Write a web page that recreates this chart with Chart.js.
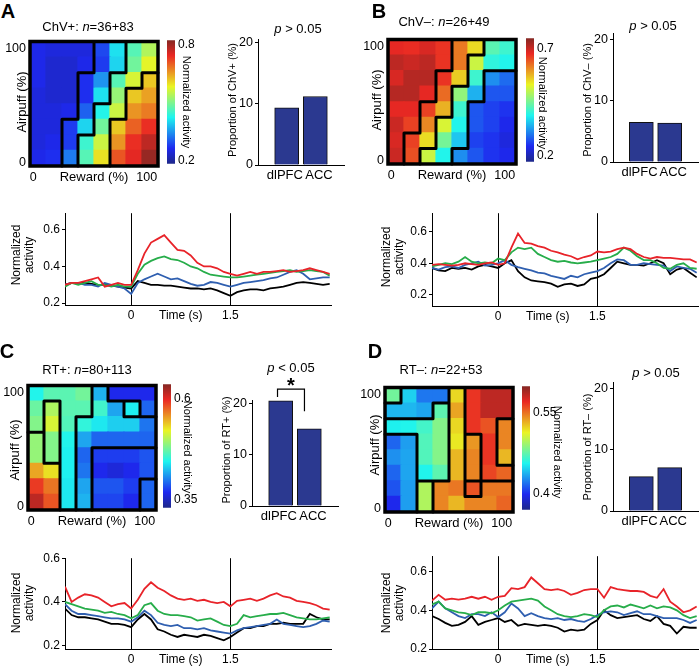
<!DOCTYPE html>
<html>
<head>
<meta charset="utf-8">
<title>ChV / RT clusters</title>
<script src="https://cdn.jsdelivr.net/npm/chart.js@4.4.1/dist/chart.umd.min.js"></script>
<style>
  html, body { margin: 0; padding: 0; background: #fff; }
  #fig { position: relative; width: 700px; height: 669px; overflow: hidden;
         font-family: 'Liberation Sans', Arial, Helvetica, sans-serif; color: #000; }
  #fig canvas { position: absolute; }
  .lbl { position: absolute; white-space: nowrap; line-height: 1.05; text-align: center; }
  .letter { font-weight: bold; }
</style>
</head>
<body>
<div id="fig"></div>
<script>
/* ============================================================
   DATA
   heat* arrays: rows from airpuff 100 (top) down to airpuff 0,
   columns from reward 0 (left) to reward 100 (right).
   groups*: cluster id of each cell, black lines go between ids.
   ============================================================ */
const timeSec = [-1.0,-0.9,-0.8,-0.7,-0.6,-0.5,-0.4,-0.3,-0.2,-0.1,
                 0.0,0.1,0.2,0.3,0.4,0.5,0.6,0.7,0.8,0.9,
                 1.0,1.1,1.2,1.3,1.4,1.5,1.6,1.7,1.8,1.9,
                 2.0,2.1,2.2,2.3,2.4,2.5,2.6,2.7,2.8,2.9,3.0];
const timeTicks      = [0, 0.75, 1.5];
const timeTickLabels = ['0', 'Time (s)', '1.5'];
const activityTicks  = [0.2, 0.4, 0.6];
const rewardIdx      = [0, 1, 2, 3, 4, 5, 6, 7];
const heatXTicks     = [-0.3, 3.5, 6.8];
const heatXLabels    = ['0', 'Reward (%)', '100'];
const heatYTicks     = [0.25, 7.55];
const heatYLabels    = ['0', '100'];
const areaLabels     = ['', 'dlPFC ', '  ACC', ''];
const propTicks      = [0, 10, 20];
const traceColors    = ['#e82329', '#27ad4a', '#2f5fb0', '#000000'];

/* ---- A: ChV+ ---- */
const heatA = [
  [0.26,0.25,0.25,0.25,0.29,0.41,0.47,0.54],
  [0.26,0.24,0.24,0.26,0.28,0.40,0.49,0.58],
  [0.26,0.24,0.24,0.27,0.35,0.47,0.57,0.62],
  [0.25,0.24,0.24,0.27,0.41,0.52,0.62,0.65],
  [0.25,0.25,0.26,0.31,0.43,0.56,0.66,0.68],
  [0.25,0.25,0.28,0.40,0.49,0.62,0.70,0.74],
  [0.25,0.26,0.28,0.45,0.56,0.66,0.74,0.78],
  [0.26,0.27,0.33,0.47,0.60,0.71,0.75,0.81]
];
const groupsA = [
  [1,1,1,1,2,2,3,3],
  [1,1,1,1,2,2,3,3],
  [1,1,1,2,2,3,3,4],
  [1,1,1,2,2,3,4,4],
  [1,1,1,2,3,3,4,4],
  [1,1,2,2,3,4,4,4],
  [1,1,2,3,3,4,4,4],
  [1,1,2,3,3,4,4,4]
];
const cbarA = [0.185, 0.825], cbarTicksA = [0.2, 0.8];
const propA = [9.35, 11.2];
const redA   = [0.30,0.31,0.31,0.32,0.33,0.34,0.29,0.30,0.31,0.30, 0.30,0.38,0.47,0.53,0.55,0.57,0.53,0.49,0.485,0.46, 0.42,0.40,0.40,0.39,0.37,0.36,0.35,0.36,0.37,0.36, 0.37,0.37,0.375,0.38,0.37,0.375,0.38,0.39,0.38,0.37, 0.36];
const greenA = [0.29,0.31,0.30,0.31,0.32,0.30,0.30,0.29,0.30,0.29, 0.29,0.36,0.41,0.43,0.445,0.455,0.44,0.435,0.42,0.40, 0.39,0.37,0.355,0.35,0.345,0.34,0.34,0.345,0.35,0.355, 0.36,0.365,0.37,0.375,0.38,0.37,0.375,0.38,0.375,0.37, 0.35];
const blueA  = [0.30,0.31,0.31,0.30,0.30,0.29,0.31,0.30,0.29,0.28, 0.25,0.31,0.33,0.345,0.36,0.345,0.33,0.335,0.32,0.305, 0.295,0.30,0.315,0.31,0.30,0.29,0.30,0.31,0.315,0.32, 0.325,0.335,0.34,0.355,0.37,0.38,0.36,0.33,0.335,0.34, 0.34];
const blackA = [0.30,0.31,0.31,0.31,0.305,0.30,0.30,0.295,0.29,0.285, 0.28,0.32,0.31,0.30,0.30,0.295,0.295,0.29,0.285,0.28, 0.28,0.275,0.28,0.27,0.255,0.24,0.26,0.27,0.275,0.275, 0.27,0.28,0.285,0.29,0.30,0.31,0.315,0.31,0.305,0.30, 0.305];

/* ---- B: ChV- ---- */
const heatB = [
  [0.68,0.675,0.69,0.67,0.62,0.55,0.43,0.41],
  [0.71,0.70,0.71,0.67,0.62,0.51,0.40,0.39],
  [0.69,0.715,0.715,0.67,0.56,0.41,0.315,0.29],
  [0.715,0.715,0.68,0.63,0.47,0.34,0.275,0.275],
  [0.68,0.68,0.66,0.58,0.41,0.275,0.26,0.25],
  [0.70,0.66,0.61,0.52,0.39,0.275,0.26,0.24],
  [0.69,0.66,0.55,0.45,0.355,0.26,0.25,0.23],
  [0.70,0.65,0.51,0.39,0.315,0.275,0.25,0.24]
];
const groupsB = [
  [1,1,1,1,2,2,3,3],
  [1,1,1,1,2,3,3,3],
  [1,1,1,2,2,3,4,4],
  [1,1,1,2,3,3,4,4],
  [1,1,2,2,3,4,4,4],
  [1,1,2,3,3,4,4,4],
  [1,2,2,3,3,4,4,4],
  [1,2,3,3,4,4,4,4]
];
const cbarB = [0.17, 0.75], cbarTicksB = [0.2, 0.7];
const propB = [6.45, 6.35];
const redB   = [0.39,0.395,0.39,0.385,0.39,0.40,0.395,0.39,0.40,0.405, 0.39,0.40,0.50,0.59,0.53,0.525,0.51,0.50,0.48,0.47, 0.455,0.445,0.425,0.44,0.45,0.475,0.47,0.475,0.49,0.50, 0.49,0.46,0.44,0.43,0.44,0.435,0.435,0.43,0.425,0.425, 0.405];
const greenB = [0.38,0.39,0.40,0.395,0.41,0.44,0.41,0.40,0.405,0.40, 0.43,0.42,0.47,0.50,0.49,0.50,0.46,0.44,0.42,0.41, 0.415,0.405,0.40,0.405,0.41,0.42,0.43,0.44,0.46,0.50, 0.48,0.445,0.42,0.42,0.40,0.37,0.365,0.39,0.40,0.37, 0.365];
const blueB  = [0.37,0.36,0.375,0.38,0.37,0.39,0.40,0.41,0.385,0.39, 0.40,0.42,0.39,0.375,0.365,0.355,0.34,0.335,0.32,0.31, 0.30,0.32,0.31,0.33,0.34,0.35,0.37,0.40,0.425,0.42, 0.39,0.39,0.40,0.395,0.39,0.385,0.35,0.38,0.37,0.365, 0.34];
const blackB = [0.37,0.355,0.35,0.37,0.365,0.37,0.36,0.38,0.39,0.38, 0.37,0.40,0.42,0.35,0.31,0.29,0.285,0.28,0.27,0.25, 0.265,0.27,0.255,0.265,0.30,0.31,0.33,0.37,0.41,0.40, 0.39,0.39,0.385,0.40,0.42,0.40,0.33,0.36,0.37,0.34, 0.31];

/* ---- C: RT+ ---- */
const heatC = [
  [0.446,0.467,0.467,0.476,0.42,0.367,0.367,0.367],
  [0.473,0.498,0.467,0.467,0.458,0.415,0.443,0.391],
  [0.482,0.513,0.464,0.452,0.44,0.43,0.43,0.397],
  [0.489,0.482,0.446,0.415,0.391,0.391,0.391,0.391],
  [0.489,0.482,0.443,0.391,0.376,0.376,0.376,0.385],
  [0.55,0.528,0.443,0.397,0.367,0.36,0.367,0.385],
  [0.59,0.568,0.44,0.415,0.385,0.385,0.376,0.391],
  [0.614,0.58,0.44,0.42,0.379,0.379,0.367,0.391]
];
const groupsC = [
  [1,1,1,1,4,5,5,5],
  [1,2,1,1,4,4,6,5],
  [1,2,1,4,4,4,4,4],
  [3,2,1,4,4,4,4,4],
  [3,2,1,4,7,7,7,7],
  [3,3,1,4,7,7,7,7],
  [3,3,1,4,7,7,7,8],
  [3,3,1,4,7,7,7,8]
];
const cbarC = [0.33, 0.635], cbarTicksC = [0.35, 0.6];
const propC = [20.45, 15.0];
const redC   = [0.47,0.40,0.42,0.435,0.43,0.42,0.40,0.38,0.39,0.395, 0.37,0.41,0.46,0.49,0.465,0.45,0.43,0.415,0.41,0.415, 0.405,0.41,0.40,0.395,0.40,0.38,0.405,0.41,0.415,0.405, 0.415,0.43,0.44,0.425,0.42,0.405,0.40,0.395,0.385,0.37, 0.365];
const greenC = [0.40,0.39,0.38,0.37,0.365,0.36,0.35,0.355,0.345,0.34, 0.325,0.34,0.385,0.395,0.36,0.345,0.34,0.34,0.335,0.33, 0.315,0.32,0.325,0.31,0.295,0.29,0.30,0.34,0.33,0.335, 0.34,0.345,0.345,0.35,0.34,0.33,0.325,0.32,0.32,0.325, 0.33];
const blueC  = [0.39,0.36,0.345,0.345,0.34,0.335,0.33,0.325,0.325,0.32, 0.31,0.33,0.36,0.34,0.305,0.295,0.29,0.295,0.28,0.28, 0.275,0.28,0.27,0.265,0.26,0.255,0.27,0.28,0.285,0.29, 0.295,0.30,0.32,0.30,0.295,0.29,0.285,0.29,0.30,0.315, 0.31];
const blackC = [0.37,0.34,0.33,0.33,0.325,0.32,0.31,0.30,0.30,0.295, 0.285,0.32,0.345,0.32,0.275,0.265,0.25,0.24,0.25,0.245, 0.24,0.25,0.245,0.235,0.225,0.24,0.26,0.28,0.28,0.29, 0.29,0.30,0.30,0.305,0.30,0.30,0.30,0.345,0.33,0.32, 0.32];

/* ---- D: RT- ---- */
const heatD = [
  [0.48,0.446,0.421,0.421,0.522,0.568,0.584,0.584],
  [0.439,0.439,0.434,0.474,0.536,0.568,0.584,0.584],
  [0.455,0.457,0.467,0.485,0.522,0.568,0.559,0.545],
  [0.416,0.432,0.471,0.485,0.517,0.54,0.568,0.545],
  [0.428,0.434,0.471,0.485,0.531,0.545,0.568,0.531],
  [0.416,0.434,0.457,0.474,0.531,0.545,0.563,0.554],
  [0.411,0.432,0.497,0.545,0.549,0.559,0.549,0.549],
  [0.398,0.432,0.497,0.545,0.531,0.545,0.545,0.554]
];
const groupsD = [
  [1,2,2,2,6,7,7,7],
  [2,2,2,3,6,7,7,7],
  [3,3,3,3,6,7,7,8],
  [4,4,3,3,6,10,7,8],
  [4,4,3,3,6,10,7,8],
  [4,4,3,3,6,10,7,7],
  [4,4,5,6,6,9,6,6],
  [4,4,5,6,6,6,6,6]
];
const cbarD = [0.37, 0.60], cbarTicksD = [0.4, 0.55];
const propD = [5.6, 7.06];
const redD   = [0.45,0.48,0.455,0.46,0.455,0.46,0.47,0.46,0.47,0.455, 0.47,0.475,0.515,0.51,0.52,0.57,0.54,0.51,0.505,0.51, 0.50,0.48,0.49,0.505,0.51,0.51,0.465,0.52,0.51,0.505, 0.50,0.50,0.495,0.475,0.465,0.51,0.445,0.42,0.39,0.40, 0.42];
const greenD = [0.43,0.445,0.41,0.40,0.39,0.385,0.375,0.39,0.39,0.385, 0.40,0.425,0.445,0.45,0.455,0.46,0.45,0.42,0.40,0.38, 0.37,0.365,0.37,0.38,0.375,0.365,0.40,0.42,0.425,0.415, 0.43,0.42,0.41,0.425,0.41,0.42,0.415,0.40,0.375,0.36, 0.37];
const blueD  = [0.41,0.445,0.41,0.39,0.37,0.36,0.38,0.38,0.37,0.39, 0.365,0.39,0.435,0.41,0.37,0.385,0.37,0.36,0.355,0.36, 0.35,0.355,0.345,0.34,0.355,0.375,0.39,0.395,0.39,0.375, 0.385,0.395,0.38,0.38,0.37,0.36,0.36,0.36,0.35,0.335, 0.35];
const blackD = [0.37,0.355,0.335,0.32,0.325,0.34,0.37,0.325,0.34,0.35, 0.36,0.34,0.35,0.32,0.33,0.325,0.32,0.325,0.32,0.31, 0.29,0.30,0.295,0.30,0.33,0.35,0.40,0.375,0.36,0.365, 0.37,0.375,0.355,0.345,0.37,0.33,0.32,0.28,0.315,0.31, 0.31];

/* ============================================================
   SETUP
   ============================================================ */
Chart.defaults.font.family = "'Liberation Sans', Arial, Helvetica, sans-serif";
Chart.defaults.color       = '#000';
Chart.defaults.animation   = false;
Chart.defaults.responsive  = false;
Chart.defaults.plugins.legend.display  = false;
Chart.defaults.plugins.tooltip.enabled = false;

const fig = document.getElementById('fig');

function canvasAt(x, y, w, h) {
  const c = document.createElement('canvas');
  c.width = w; c.height = h;
  c.style.left = x + 'px'; c.style.top = y + 'px';
  c.style.width = w + 'px'; c.style.height = h + 'px';
  fig.appendChild(c);
  return c;
}

function label(html, x, y, size, rot, cls) {
  const d = document.createElement('div');
  d.className = 'lbl' + (cls ? ' ' + cls : '');
  d.innerHTML = html;
  d.style.left = x + 'px';
  d.style.top  = y + 'px';
  d.style.fontSize = size + 'px';
  d.style.transform = 'translate(-50%,-50%)' + (rot ? ' rotate(' + rot + 'deg)' : '');
  fig.appendChild(d);
}

// jet colormap, slightly muted like the printed figure
function jet(f) {
  f = Math.min(1, Math.max(0, f));
  const ch = (v, off) => Math.round(0.8 * 255 * Math.min(1, Math.max(0, v)) + off);
  return 'rgb(' + ch(1.5 - Math.abs(4 * f - 3), 30) + ',' +
                  ch(1.5 - Math.abs(4 * f - 2), 40) + ',' +
                  ch(1.5 - Math.abs(4 * f - 1), 35) + ')';
}

function jetGradient(chart) {
  const a = chart.chartArea;
  if (!a) return '#888';
  const g = chart.ctx.createLinearGradient(0, a.bottom, 0, a.top);
  for (let i = 0; i <= 16; i++) g.addColorStop(i / 16, jet(i / 16));
  return g;
}

/* ── black cluster outlines + heavy frame ── */
function contourPlugin(groups) {
  return {
    id: 'contour',
    afterDatasetsDraw(chart) {
      const xs = chart.scales.x, ys = chart.scales.y, ctx = chart.ctx;
      const px = c => xs.getPixelForValue(c - 0.5);   // left edge of column c
      const py = r => ys.getPixelForValue(8 - r);     // top edge of row r (from top)
      ctx.save();
      ctx.strokeStyle = '#000';
      ctx.lineWidth = 3;
      ctx.lineCap = 'round';
      ctx.beginPath();
      for (let r = 0; r < 8; r++) {
        for (let c = 0; c < 8; c++) {
          if (c < 7 && groups[r][c] !== groups[r][c + 1]) {
            ctx.moveTo(px(c + 1), py(r)); ctx.lineTo(px(c + 1), py(r + 1));
          }
          if (r < 7 && groups[r][c] !== groups[r + 1][c]) {
            ctx.moveTo(px(c), py(r + 1)); ctx.lineTo(px(c + 1), py(r + 1));
          }
        }
      }
      ctx.stroke();
      ctx.lineWidth = 3.5;
      ctx.strokeRect(px(0), py(0), px(8) - px(0), py(8) - py(0));
      ctx.restore();
    }
  };
}

/* ── heatmap: 8 stacked rows of unit bars, coloured by value ── */
function drawHeatmap(L, T, values, groups, range) {
  const cv = canvasAt(L - 30, T - 8, 172, 160);
  const datasets = [];
  for (let k = 0; k < 8; k++) {
    const row = values[7 - k];              // k = 0 -> bottom row (airpuff 0)
    datasets.push({
      data: rewardIdx.map(c => ({ x: c, y: 1 })),
      backgroundColor: row.map(v => jet((v - range[0]) / (range[1] - range[0]))),
      borderWidth: 0,
      inflateAmount: 0.6,
      barPercentage: 1,
      categoryPercentage: 1
    });
  }
  new Chart(cv, {
    type: 'bar',
    data: { datasets },
    options: {
      layout: { padding: { left: 0, top: 8, right: 14, bottom: 0 } },
      scales: {
        x: {
          type: 'linear', stacked: true, offset: false, min: -0.5, max: 7.5,
          grid: { display: false, drawTicks: false }, border: { display: false },
          afterBuildTicks: s => { s.ticks = heatXTicks.map(v => ({ value: v })); },
          afterFit: s => { s.height = 24; },
          ticks: { padding: 4, maxRotation: 0, autoSkip: false,
                   font: c => ({ size: c.index === 1 ? 13 : 12.5 }),
                   callback: (v, i) => heatXLabels[i] }
        },
        y: {
          stacked: true, min: 0, max: 8,
          grid: { display: false, drawTicks: false }, border: { display: false },
          afterBuildTicks: s => { s.ticks = heatYTicks.map(v => ({ value: v })); },
          afterFit: s => { s.width = 30; },
          ticks: { padding: 4, font: { size: 12.5 }, callback: (v, i) => heatYLabels[i] }
        }
      }
    },
    plugins: [contourPlugin(groups)]
  });
}

/* ── colour bar ── */
function drawColorbar(L, T, R, B, range, ticks) {
  const cv = canvasAt(L, T - 8, R - L + 40, B - T + 16);
  new Chart(cv, {
    type: 'bar',
    data: { labels: [''], datasets: [{ data: [range], backgroundColor: c => jetGradient(c.chart),
                                       borderWidth: 0, barPercentage: 1, categoryPercentage: 1 }] },
    options: {
      layout: { padding: { left: 0, top: 8, right: 0, bottom: 8 } },
      scales: {
        x: { display: false },
        y: {
          position: 'right', min: range[0], max: range[1],
          grid: { display: false, drawTicks: false }, border: { display: false },
          afterBuildTicks: s => { s.ticks = ticks.map(v => ({ value: v })); },
          afterFit: s => { s.width = 40; },
          ticks: { padding: 3, font: { size: 12 }, callback: v => String(v) }
        }
      }
    }
  });
}

/* ── dlPFC / ACC proportion bars ── */
function drawProportion(L, T, R, B, ymax, values, extra) {
  const cv = canvasAt(L - 30, T - 26, R - L + 32, B - T + 48);
  new Chart(cv, {
    type: 'bar',
    data: { labels: areaLabels,
            datasets: [{ data: [null, values[0], values[1], null], backgroundColor: '#2b3990',
                         borderColor: '#111', borderWidth: 1, barThickness: 24 }] },
    options: {
      layout: { padding: { left: 0, top: 26, right: 2, bottom: 0 } },
      scales: {
        x: {
          offset: false, grid: { display: false, drawTicks: false }, border: { color: '#000' },
          afterFit: s => { s.height = 22; },
          ticks: { padding: 3, autoSkip: false, maxRotation: 0, font: { size: 13 } }
        },
        y: {
          min: 0, max: ymax,
          grid: { drawOnChartArea: false, drawTicks: true, tickLength: 3, color: '#000' },
          border: { color: '#000' },
          afterBuildTicks: s => { s.ticks = propTicks.map(v => ({ value: v })); },
          afterFit: s => { s.width = 30; },
          ticks: { padding: 2, font: { size: 12.5 } }
        }
      }
    },
    plugins: extra || []
  });
}

/* significance bracket (panel C) */
const bracketC = {
  id: 'bracketC',
  afterDraw(chart) {
    const xs = chart.scales.x, ys = chart.scales.y, ctx = chart.ctx;
    const x1 = xs.getPixelForValue(0.89), x2 = xs.getPixelForValue(1.83);
    ctx.save();
    ctx.strokeStyle = '#000'; ctx.lineWidth = 1.2;
    ctx.beginPath();
    ctx.moveTo(x1, ys.getPixelForValue(21.2));
    ctx.lineTo(x1, ys.getPixelForValue(22.7));
    ctx.lineTo(x2, ys.getPixelForValue(22.7));
    ctx.lineTo(x2, ys.getPixelForValue(18.4));
    ctx.stroke();
    ctx.restore();
  }
};

/* ── population activity traces ── */
function drawTraces(L, T, R, B, yRange, series) {
  const cv = canvasAt(L - 45, T - 8, R - L + 49, B - T + 28);
  new Chart(cv, {
    type: 'line',
    data: {
      labels: timeSec,
      datasets: series.map((s, i) => ({ data: s, borderColor: traceColors[i], borderWidth: 1.8,
                                         pointRadius: 0, tension: 0 }))
    },
    options: {
      layout: { padding: { left: 0, top: 8, right: 4, bottom: 0 } },
      scales: {
        x: {
          type: 'linear', min: -1, max: 3.02,
          afterBuildTicks: s => { s.ticks = timeTicks.map(v => ({ value: v })); },
          afterFit: s => { s.height = 20; },
          ticks: { padding: 3, maxRotation: 0, autoSkip: false, font: { size: 12 },
                   callback: (v, i) => timeTickLabels[i] },
          grid: { drawTicks: false, lineWidth: 1,
                  color: c => (c.tick && c.tick.value !== 0.75) ? '#000' : 'rgba(0,0,0,0)' },
          border: { color: '#000' }
        },
        y: {
          min: yRange[0], max: yRange[1],
          afterBuildTicks: s => { s.ticks = activityTicks.map(v => ({ value: v })); },
          afterFit: s => { s.width = 45; },
          ticks: { padding: 2, font: { size: 12 }, callback: v => v.toFixed(1) },
          grid: { drawOnChartArea: false, drawTicks: true, tickLength: 3, color: '#000' },
          border: { color: '#000' }
        }
      }
    }
  });
}

/* ============================================================
   BUILD
   ============================================================ */
// A
drawHeatmap(30, 38, heatA, groupsA, cbarA);
drawColorbar(167, 38, 175, 166, cbarA, cbarTicksA);
drawProportion(258, 39, 345, 165, 20.6, propA);
drawTraces(65, 212, 331, 305, [0.19, 0.69], [redA, greenA, blueA, blackA]);
// B
drawHeatmap(388, 36, heatB, groupsB, cbarB);
drawColorbar(526, 36, 534, 164, cbarB, cbarTicksB);
drawProportion(613, 33, 699, 162, 21, propB);
drawTraces(432, 212, 698, 306, [0.127, 0.72], [redB, greenB, blueB, blackB]);
// C
drawHeatmap(28, 382, heatC, groupsC, cbarC);
drawColorbar(163, 382, 171, 510, cbarC, cbarTicksC);
drawProportion(252, 400, 339, 506, 20.6, propC, [bracketC]);
drawTraces(65, 557, 331, 649, [0.185, 0.6], [redC, greenC, blueC, blackC]);
// D
drawHeatmap(385, 384, heatD, groupsD, cbarD);
drawColorbar(522, 384, 530, 512, cbarD, cbarTicksD);
drawProportion(613, 382, 699, 511, 21, propD);
drawTraces(432, 555, 698, 649, [0.2, 0.68], [redD, greenD, blueD, blackD]);

/* ── text ── */
label('A', 8, 11, 20, 0, 'letter');
label('ChV+: <i>n</i>=36+83', 88, 27, 13);
label('Airpuff (%)', 22, 102, 13, -90);
label('Normalized activity', 186, 102, 11, 90);
label('Proportion of ChV+ (%)', 233, 100, 11, -90);
label('<i>p</i> &gt; 0.05', 298, 29, 13);
label('Normalized<br>activity', 23, 255, 12, -90);

label('B', 379, 11, 20, 0, 'letter');
label('ChV\u2013: <i>n</i>=26+49', 444, 22, 13);
label('Airpuff (%)', 377, 100, 13, -90);
label('Normalized activity', 542, 103, 11, 90);
label('Proportion of ChV\u2013 (%)', 588, 100, 11, -90);
label('<i>p</i> &gt; 0.05', 653, 26, 13);
label('Normalized<br>activity', 393, 257, 12, -90);

label('C', 7, 351, 20, 0, 'letter');
label('RT+: <i>n</i>=80+113', 87, 370, 13);
label('Airpuff (%)', 15, 450, 13, -90);
label('Normalized activity', 187, 447, 11, 90);
label('Proportion of RT+ (%)', 227, 450, 11, -90);
label('<i>p</i> &lt; 0.05', 291, 368, 13);
label('<b>*</b>', 291, 385, 20);
label('Normalized<br>activity', 23, 603, 12, -90);

label('D', 375, 351, 20, 0, 'letter');
label('RT\u2013: <i>n</i>=22+53', 441, 370, 13);
label('Airpuff (%)', 375, 445, 13, -90);
label('Normalized activity', 557, 452, 11, 90);
label('Proportion of RT\u2013 (%)', 588, 447, 11, -90);
label('<i>p</i> &gt; 0.05', 656, 373, 13);
label('Normalized<br>activity', 393, 603, 12, -90);
</script>
</body>
</html>
